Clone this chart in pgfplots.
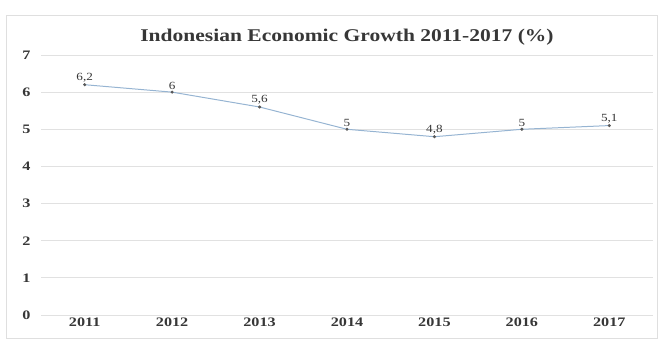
\documentclass[border=0pt]{standalone}
\usepackage{pgfplots}
\pgfplotsset{compat=1.18}
\usepackage{fontspec}
\setmainfont{Liberation Serif}
\newfontfamily\wide[FakeStretch=1.25]{Liberation Serif}
\newfontfamily\widet[FakeStretch=1.2]{Liberation Serif}
\definecolor{linec}{RGB}{150,180,210}
\definecolor{gridc}{RGB}{225,225,225}
\definecolor{txt}{RGB}{55,55,55}
\begin{document}
\begin{tikzpicture}
\begin{axis}[
  scale only axis,
  width=612bp, height=260bp,
  xmin=-0.5, xmax=6.5, ymin=0, ymax=7,
  xtick={0,...,6},
  xticklabels={2011,2012,2013,2014,2015,2016,2017},
  ytick={0,...,7},
  ymajorgrids, grid style={gridc, line width=0.8pt},
  axis line style={draw=none},
  major tick length=0pt,
  tick label style={font=\wide\fontsize{13}{14}\selectfont\bfseries, text=txt},
  /pgf/number format/assume math mode=true,
  xticklabel style={yshift=1bp},
  yticklabel style={xshift=-7bp},
  title={\widet\fontsize{18}{20}\selectfont\bfseries Indonesian Economic Growth 2011-2017 (\%)},
  title style={text=txt, yshift=0bp},
  nodes near coords,
  every node near coord/.append style={font=\widet\fontsize{11}{12}\selectfont, text=txt, yshift=-1bp},
  /pgf/number format/use comma,
  clip=false,
]
\addplot[linec, line width=1pt, mark=*, mark size=1pt, mark options={fill=gray!70!black, draw=gray!70!black}]
  coordinates {(0,6.2) (1,6) (2,5.6) (3,5) (4,4.8) (5,5) (6,5.1)};
\end{axis}
\path (current axis.south west) ++(-41bp,-25bp) (current axis.north east) ++(6bp,55bp);
\draw[gray!25] ([shift={(-35bp,-23bp)}]current axis.south west) rectangle ([shift={(4bp,40bp)}]current axis.north east);
\end{tikzpicture}
\end{document}
